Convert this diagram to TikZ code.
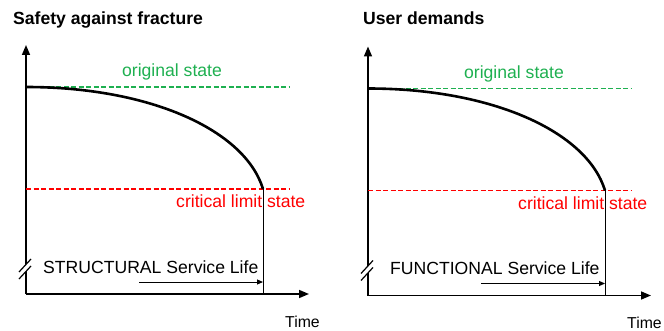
\documentclass[tikz,border=0pt]{standalone}
\usepackage{fontspec}
\setmainfont{Liberation Sans}
\usetikzlibrary{arrows.meta}
\definecolor{stategreen}{RGB}{30,176,80}
\definecolor{limitred}{RGB}{255,0,0}
\tikzset{
    axis/.style={
        line width=1.6pt,
        -{Triangle[length=10pt, width=8pt]}
    },
    level/.style={
        line width=1.8pt,
        dash pattern=on 5pt off 2.5pt
    },
    lifecurve/.style={line width=2.6pt},
    lifearrow/.style={line width=1pt, -{Triangle[length=6pt, width=5pt]}},
    txt/.style={inner sep=0pt, font=\fontsize{17.6}{20}\selectfont},
    heading/.style={inner sep=0pt, font=\fontsize{17.6}{20}\selectfont\bfseries}
}

\begin{document}
\begin{tikzpicture}[x=1pt, y=-1pt]
    \useasboundingbox (0,0) rectangle (664,331);
    \node[heading, anchor=base west] (titleL) at (13,25) {Safety against fracture};
    \node[heading, anchor=base west] (titleR) at (363,25) {User demands};

    % one panel per kind of service life
    \foreach \dx/\dy/\s/\kind/\kx in {0/0/L/STRUCTURAL/43, 342/1.5/R/FUNCTIONAL/48} {
    \begin{scope}[shift={(\dx,\dy)}]
        \coordinate (o\s) at (26,294);
        \coordinate (ytop\s) at (26,45);
        \coordinate (xtip\s) at (309,294);
        \coordinate (start\s) at (26,87);
        \coordinate (gend\s) at (290,87);
        \coordinate (rstart\s) at (26,189);
        \coordinate (rend\s) at (290,189);
        \coordinate (end\s) at (263,189);
        \coordinate (foot\s) at (263,294);
        \coordinate (life\s) at (139,282);
        \coordinate (lifeend\s) at (263,282);

        \draw[axis] (o\s) -- (ytop\s);
        \draw[axis] (o\s) -- (xtip\s);
        \draw[level, stategreen] (start\s) -- (gend\s);
        \draw[level, limitred] (rstart\s) -- (rend\s);
        \draw[lifecurve] (start\s) .. controls (150,87) and (245,130) .. (end\s);
        \draw[line width=0.9pt] (end\s) -- (foot\s);
        \draw[lifearrow] (life\s) -- (lifeend\s);

        % axis break
        \fill[white] (19,272) -- (31,259) -- (31,266) -- (19,279) -- cycle;
        \draw[line width=1.2pt] (19,272) -- (31,259);
        \draw[line width=1.2pt] (19,279) -- (31,266);

        \node[txt, stategreen, anchor=base] (orig\s) at (172,77) {original state};
        \node[txt, limitred, anchor=base west] (crit\s) at (176,208) {critical limit state};
        \node[txt, anchor=base west] (kind\s) at (\kx,273) {\kind{} Service Life};
        \node[txt, anchor=base west, font=\fontsize{15.8}{18}\selectfont] (time\s) at (285,327) {Time};
    \end{scope}
    }
\end{tikzpicture}
\end{document}
